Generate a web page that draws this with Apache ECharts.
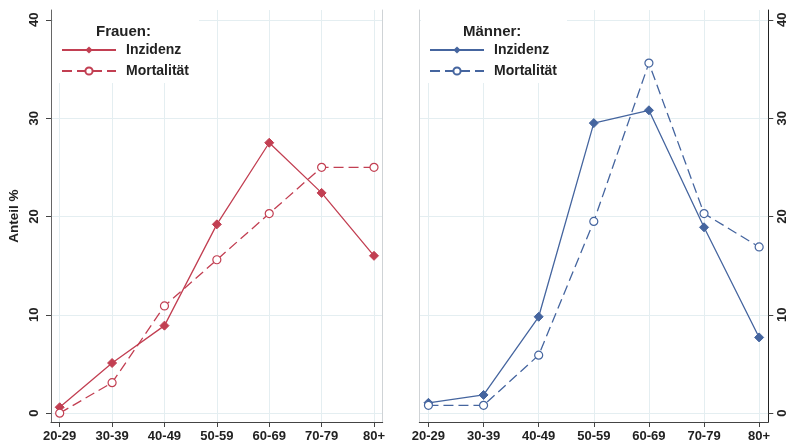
<!DOCTYPE html>
<html><head><meta charset="utf-8">
<script src="https://cdn.jsdelivr.net/npm/echarts@6/dist/echarts.min.js"></script>
<style>html,body{margin:0;padding:0;background:#fff}#c{width:804px;height:446px}</style>
</head><body><div id="c"></div>
<script>
const categories = ['20-29','30-39','40-49','50-59','60-69','70-79','80+'];
const yTicks = [0, 10, 20, 30, 40];
const frauenInzidenz = [0.6, 5.1, 8.9, 19.2, 27.5, 22.4, 16.0];
const frauenMortalitaet = [0.0, 3.1, 10.9, 15.6, 20.3, 25.0, 25.0];
const maennerInzidenz = [1.05, 1.85, 9.8, 29.5, 30.8, 18.9, 7.7];
const maennerMortalitaet = [0.8, 0.8, 5.9, 19.5, 35.6, 20.3, 16.9];

const RED = '#c23f52', BLUE = '#45659f';
const idx = categories.map((c, i) => i);
const pairs = arr => arr.map((v, i) => [i, v]);
const FONT = 'Liberation Sans';
const gridColor = '#e4eef1';

function xAxis(gi) {
  return {
    type: 'value', gridIndex: gi, min: -0.166, max: 6.166,
    axisLine: {show: true, onZero: false, lineStyle: {color: '#444', width: 1}},
    axisTick: {show: true, length: 5, customValues: idx, lineStyle: {color: '#444'}},
    axisLabel: {customValues: idx, margin: 8, fontFamily: FONT, fontWeight: 'bold', fontSize: 13, color: '#222',
      formatter: v => categories[Math.round(v)]},
    splitLine: {show: true, lineStyle: {color: gridColor, width: 1}}
  };
}
function yAxisMain(gi, pos, lineColor, name) {
  return {
    type: 'value', gridIndex: gi, position: pos, min: -0.9, max: 41,
    name: name || '', nameLocation: 'middle', nameGap: 30, nameRotate: 90,
    nameTextStyle: {fontFamily: FONT, fontWeight: 'bold', fontSize: 13.5, color: '#222'},
    axisLine: {show: true, onZero: false, lineStyle: {color: lineColor, width: 1}},
    axisTick: {show: true, length: 5, customValues: yTicks, lineStyle: {color: '#444'}},
    axisLabel: {customValues: yTicks, rotate: 90, margin: pos === 'left' ? 10 : 8, fontFamily: FONT, fontWeight: 'bold', fontSize: 13, color: '#222'},
    splitLine: {show: true, lineStyle: {color: gridColor, width: 1}}
  };
}
function yAxisFrame(gi, pos) {
  return {
    type: 'value', gridIndex: gi, position: pos, min: -0.9, max: 41,
    axisLine: {show: true, onZero: false, lineStyle: {color: '#cfd3d6', width: 1}},
    axisTick: {show: false}, axisLabel: {show: false}, splitLine: {show: false}
  };
}
function lineSeries(name, data, xi, yi, color, dashed) {
  return {
    type: 'line', name: name, data: pairs(data), xAxisIndex: xi, yAxisIndex: yi,
    symbol: dashed ? 'circle' : 'diamond', symbolSize: dashed ? 8 : 9,
    showSymbol: true, animation: false,
    lineStyle: {color: color, width: 1.3, type: dashed ? [10, 5] : 'solid'},
    itemStyle: dashed ? {color: '#fff', borderColor: color, borderWidth: 1.2} : {color: color, borderColor: color},
    emphasis: {disabled: true}
  };
}
function legend(left, names, color) {
  return {
    left: left, top: 10, orient: 'vertical', backgroundColor: '#fff',
    padding: [33, 10, 5, 8], itemWidth: 54, itemHeight: 9, itemGap: 7,
    data: names, selectedMode: false,
    formatter: n => n.split('|')[1],
    textStyle: {fontFamily: FONT, fontWeight: 'bold', fontSize: 14, color: '#222', padding: [0, 0, 0, 5]}
  };
}

const chart = echarts.init(document.getElementById('c'), null, {renderer: 'canvas'});
chart.setOption({
  animation: false,
  backgroundColor: '#fff',
  grid: [
    {left: 51, top: 10, width: 331.7, height: 412},
    {left: 419.3, top: 10, width: 349, height: 412}
  ],
  xAxis: [xAxis(0), xAxis(1)],
  yAxis: [
    yAxisMain(0, 'left', '#666', 'Anteil %'),
    yAxisFrame(0, 'right'),
    yAxisMain(1, 'right', '#222'),
    yAxisFrame(1, 'left')
  ],
  legend: [
    legend(53, ['Frauen|Inzidenz', 'Frauen|Mortalität'], RED),
    legend(421, ['Männer|Inzidenz', 'Männer|Mortalität'], BLUE)
  ],
  title: [
    {text: 'Frauen:', left: 91, top: 19, textStyle: {fontFamily: FONT, fontWeight: 'bold', fontSize: 15, color: '#222'}},
    {text: 'Männer:', left: 458, top: 19, textStyle: {fontFamily: FONT, fontWeight: 'bold', fontSize: 15, color: '#222'}}
  ],
  series: [
    lineSeries('Frauen|Inzidenz', frauenInzidenz, 0, 0, RED, false),
    lineSeries('Frauen|Mortalität', frauenMortalitaet, 0, 0, RED, true),
    lineSeries('Männer|Inzidenz', maennerInzidenz, 1, 2, BLUE, false),
    lineSeries('Männer|Mortalität', maennerMortalitaet, 1, 2, BLUE, true)
  ]
});
</script></body></html>
